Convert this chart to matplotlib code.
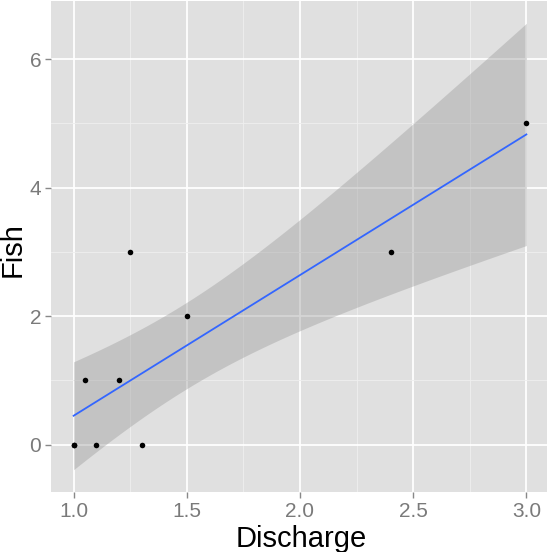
import numpy as np
import matplotlib
matplotlib.use("Agg")
import matplotlib.pyplot as plt

plt.rcParams["font.family"] = ["Liberation Sans", "DejaVu Sans"]

discharge = [1.0, 1.0, 1.05, 1.1, 1.2, 1.25, 1.3, 1.5, 2.4, 3.0]
fish = [0, 0, 1, 0, 1, 3, 0, 2, 3, 5]
x_ticks = [1.0, 1.5, 2.0, 2.5, 3.0]
x_tick_labels = ["1.0", "1.5", "2.0", "2.5", "3.0"]
y_ticks = [0, 2, 4, 6]
t_975_df8 = 2.306004

x = np.array(discharge, dtype=float)
y = np.array(fish, dtype=float)
n = len(x)
slope, intercept = np.polyfit(x, y, 1)
resid = y - (slope * x + intercept)
s = np.sqrt(np.sum(resid ** 2) / (n - 2))
sxx = np.sum((x - x.mean()) ** 2)
xs = np.linspace(x.min(), x.max(), 80)
fit = slope * xs + intercept
se = s * np.sqrt(1 / n + (xs - x.mean()) ** 2 / sxx)
lo = fit - t_975_df8 * se
hi = fit + t_975_df8 * se

W, H = 547, 552
fig = plt.figure(figsize=(W / 100, H / 100), dpi=100)
ax = fig.add_axes([51 / W, 1 - 492 / H, 498 / W, 491 / H])
ax.set_facecolor("#E0E0E0")
for sp in ax.spines.values():
    sp.set_visible(False)

xr = x.max() - x.min()
ax.set_xlim(x.min() - 0.05 * xr, x.max() + 0.05 * xr)
ymin, ymax = min(lo.min(), y.min()), max(hi.max(), y.max())
yr = ymax - ymin
ax.set_ylim(ymin - 0.05 * yr, ymax + 0.05 * yr)

ax.set_xticks(x_ticks)
ax.set_xticklabels(x_tick_labels)
ax.set_yticks(y_ticks)
ax.set_xticks([1.25, 1.75, 2.25, 2.75], minor=True)
ax.set_yticks([1, 3, 5], minor=True)
ax.grid(which="major", color="white", linewidth=1.3)
ax.grid(which="minor", color="#EFEFEF", linewidth=0.6)
ax.set_axisbelow(True)
ax.tick_params(which="major", length=4, width=1, color="#888888",
               labelsize=15, labelcolor="#7A7A7A", pad=3)
ax.tick_params(which="minor", length=0)

ax.fill_between(xs, lo, hi, color="#999999", alpha=0.4, linewidth=0, zorder=2)
ax.plot(xs, fit, color="#3366FF", linewidth=1.3, zorder=3)
ax.scatter(x, y, s=16, color="black", zorder=4, linewidths=0)

fig.text(301 / W, (H - 547) / H, "Discharge", fontsize=21, color="black",
         ha="center", va="baseline")
fig.text(13 / W, 1 - 250 / H, "Fish", fontsize=21, color="black",
         ha="center", va="center", rotation=90)

fig.savefig("out.png", dpi=100)
